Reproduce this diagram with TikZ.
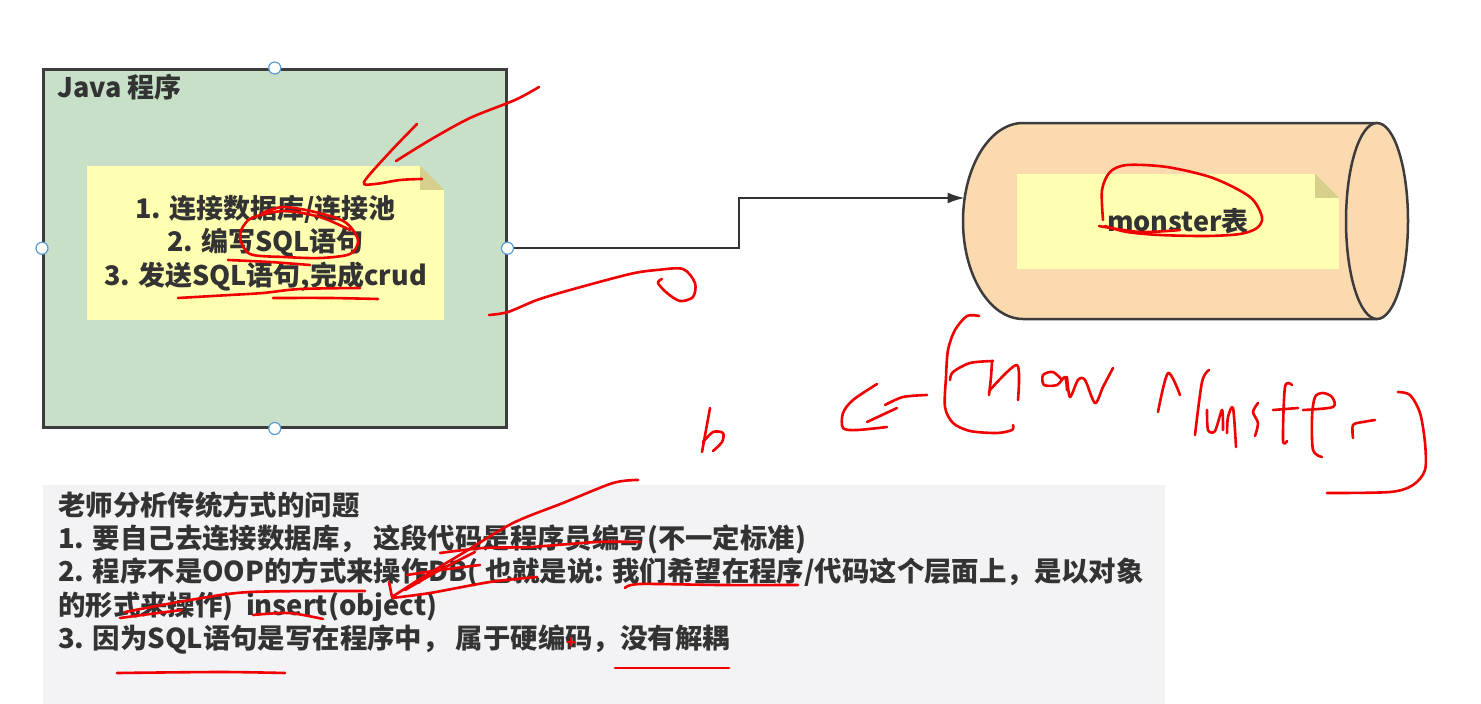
\documentclass[tikz,border=0pt]{standalone}
\usepackage{fontspec}
\setmainfont{Noto Sans CJK SC}
\usetikzlibrary{arrows.meta}
\definecolor{javagreen}{RGB}{200,224,200}
\definecolor{boxedge}{RGB}{60,60,60}
\definecolor{noteyellow}{RGB}{255,255,178}
\definecolor{notefold}{RGB}{214,208,140}
\definecolor{dbpeach}{RGB}{252,218,176}
\definecolor{panelgray}{RGB}{243,243,245}
\definecolor{txt}{RGB}{51,51,51}
\definecolor{handleblue}{RGB}{91,155,213}
\definecolor{ink}{RGB}{240,0,0}
\tikzset{
  javabox/.style={draw=boxedge, fill=javagreen, line width=2.5pt, inner sep=0},
  notebox/.style={fill=noteyellow, align=center, inner sep=0},
  foldtri/.style={fill=notefold},
  conn/.style={draw=txt, line width=2pt, -{Latex[length=17pt,width=11pt]}},
  dbline/.style={draw=boxedge, line width=2.5pt},
  handle/.style={circle, draw=handleblue, fill=white, line width=1.2pt, minimum size=12pt, inner sep=0},
  ink/.style={draw=ink, line width=2.6pt, line cap=round, line join=round},
}
\begin{document}
\begin{tikzpicture}[x=1pt, y=-1pt, font=\fontsize{27}{33.5}\selectfont\bfseries, text=txt]
\useasboundingbox (0,0) rectangle (1481,704);
\fill[white] (0,0) rectangle (1481,704);

% Java program box
\node[javabox, minimum width=463pt, minimum height=358pt, anchor=north west] (java) at (42,68) {};
\node[anchor=west, inner sep=0] (javatitle) at (57,87) {Java 程序};

% note in java box
\node[notebox, minimum width=357pt, minimum height=154pt] (note1) at (265.5,243)
  {1. 连接数据库/连接池\\2. 编写SQL语句\\3. 发送SQL语句,完成crud};
\fill[javagreen] (note1.north east) -- ++(-24,0) -- ++(24,24) -- cycle;
\fill[foldtri] (note1.north east) ++(-24,0) -- ++(0,24) -- ++(24,0) -- cycle;

% database cylinder
\fill[dbpeach] (1023,123) -- (1377,123) -- (1377,319) -- (1023,319)
  arc[start angle=90, end angle=270, x radius=60, y radius=98] -- cycle;
\draw[dbline] (1377,123) -- (1023,123)
  arc[start angle=270, end angle=90, x radius=60, y radius=98] -- (1377,319);
\draw[dbline, fill=dbpeach] (1377,221) ellipse [x radius=31, y radius=98];
\node[inner sep=0, minimum width=446pt, minimum height=196pt] (db) at (1185,221) {};
\coordinate (dbin) at (964.5,198);

\node[notebox, minimum width=322pt, minimum height=95pt] (note2) at (1178,221.5) {monster表};
\fill[dbpeach] (note2.north east) -- ++(-24,0) -- ++(24,24) -- cycle;
\fill[foldtri] (note2.north east) ++(-24,0) -- ++(0,24) -- ++(24,0) -- cycle;

% connector
\draw[conn] (java.east) -- ++(231,0) |- (dbin);

% handles
\node[handle] (hn) at (java.north) {};
\node[handle] (hs) at (java.south) {};
\node[handle] (hw) at (java.west) {};
\node[handle] (he) at (java.east) {};

% bottom panel
\fill[panelgray] (43,485) rectangle (1165,704);
\node[anchor=north west, align=left, inner sep=0, font=\fontsize{27.4}{33.4}\selectfont\bfseries] (issues) at (58,491)
  {老师分析传统方式的问题\\
   1. 要自己去连接数据库， 这段代码是程序员编写(不一定标准)\\
   2. 程序不是OOP的方式来操作DB( 也就是说: 我们希望在程序/代码这个层面上，是以对象\\
   的形式来操作)~ insert(object)\\
   3. 因为SQL语句是写在程序中， 属于硬编码，没有解耦};

% red handwritten annotations
\draw[ink] plot[smooth] coordinates {(539,87) (515,100) (470,118) (430,140) (396,161)};
\draw[ink] plot[smooth] coordinates {(417,124) (390,152) (364,182) (375,184) (400,180) (422,179)};
\draw[ink] plot[smooth] coordinates {(262,213) (283,207) (315,212) (345,222) (358,240) (350,254) (320,258) (285,257) (250,254) (240,236) (250,219) (283,211) (320,217) (350,230)};
\draw[ink] plot[smooth] coordinates {(228,260) (270,262) (310,265)};
\draw[ink] plot[smooth] coordinates {(178,298) (230,295) (263,293) (300,289) (360,288)};
\draw[ink] plot[smooth] coordinates {(273,298) (330,298) (378,299)};
\draw[ink] plot[smooth] coordinates {(489,315) (508,312) (537,300) (570,290) (630,274) (657,270) (683,269) (695,283) (693,297) (680,301) (667,293) (658,283) (662,279)};
\draw[ink] plot[smooth] coordinates {(1099,226) (1140,232) (1180,230)};
\draw[ink] plot[smooth] coordinates {(1103,220) (1102,190) (1110,172) (1127,165) (1167,167) (1213,178) (1250,197) (1262,217) (1257,228) (1240,234) (1207,236) (1160,235) (1127,232) (1105,226)};
% b
\draw[ink] plot[smooth] coordinates {(710,408) (706,430) (702,452)};
\draw[ink] plot[smooth] coordinates {(703,442) (713,432) (723,433) (722,442) (713,451)};
% arrow
\draw[ink] plot[smooth] coordinates {(877,384) (853,400) (843,413) (843,428) (857,430) (887,427)};
\draw[ink] plot[smooth] coordinates {(927,395) (903,397) (885,405)};
\draw[ink] plot[smooth] coordinates {(897,408) (867,422)};
% ( new
\draw[ink] plot[smooth] coordinates {(979,316) (967,316) (955,330) (948,350) (946,377) (945,407) (953,423) (970,431) (997,433) (1012,430) (1013,425)};
\draw[ink] plot[smooth] coordinates {(950,380) (953,372) (970,363) (993,361)};
\draw[ink] plot[smooth] coordinates {(992,361) (991,377) (989,395)};
\draw[ink] plot[smooth] coordinates {(990,390) (1017,365) (1018,400)};
\draw[ink] plot[smooth] coordinates {(1062,380) (1053,372) (1043,375) (1044,385) (1057,385) (1065,377) (1067,390)};
\draw[ink] plot[smooth] coordinates {(1067,377) (1070,397) (1078,380) (1085,380) (1095,403) (1103,387) (1113,368)};
% Monster )
\draw[ink] plot[smooth] coordinates {(1158,412) (1168,373) (1180,395)};
\draw[ink] plot[smooth] coordinates {(1209,370) (1202,382) (1195,435)};
\draw[ink] plot[smooth] coordinates {(1207,410) (1208,430) (1215,431) (1222,410) (1223,430)};
\draw[ink] plot[smooth] coordinates {(1227,433) (1228,417) (1233,408) (1236,447)};
\draw[ink] plot[smooth] coordinates {(1258,403) (1253,412) (1258,423) (1255,436)};
\draw[ink] plot[smooth] coordinates {(1292,385) (1285,387) (1283,440) (1287,441)};
\draw[ink] plot[smooth] coordinates {(1273,410) (1298,408)};
\draw[ink] plot[smooth] coordinates {(1303,410) (1333,407) (1332,397) (1323,393) (1315,397) (1312,417) (1313,450) (1322,457)};
\draw[ink] plot[smooth] coordinates {(1353,438) (1353,425) (1363,422) (1375,420)};
\draw[ink] plot[smooth] coordinates {(1398,392) (1410,395) (1420,413) (1425,443) (1425,470) (1413,485) (1390,492) (1327,493)};
% bottom panel marks
\draw[ink] plot[smooth] coordinates {(638,480) (613,483) (563,503) (513,523) (463,553) (423,577) (392,597)};
\draw[ink] plot[smooth] coordinates {(405,590) (440,570) (475,552)};
\draw[ink] plot[smooth] coordinates {(389,582) (392,597)};
\draw[ink] plot[smooth] coordinates {(392,598) (430,593) (490,582) (537,577)};
\draw[ink] plot[smooth] coordinates {(440,553) (483,548) (530,547) (597,542) (640,542)};
\draw[ink] plot[smooth] coordinates {(407,575) (440,570) (480,565)};
\draw[ink] plot[smooth] coordinates {(625,588) (640,584) (720,585) (798,585)};
\draw[ink] plot[smooth] coordinates {(125,612) (190,600) (250,592) (365,591)};
\draw[ink] plot[smooth] coordinates {(120,618) (150,614) (182,610)};
\draw[ink] plot[smooth] coordinates {(253,615) (289,613) (323,619)};
\draw[ink] plot[smooth] coordinates {(117,673) (220,672) (285,673)};
\draw[ink, line width=1.6pt] (567,642) -- (575,642) (571,638) -- (571,646);
\draw[ink] plot[smooth] coordinates {(615,668) (672,668) (729,668)};
\end{tikzpicture}
\end{document}
